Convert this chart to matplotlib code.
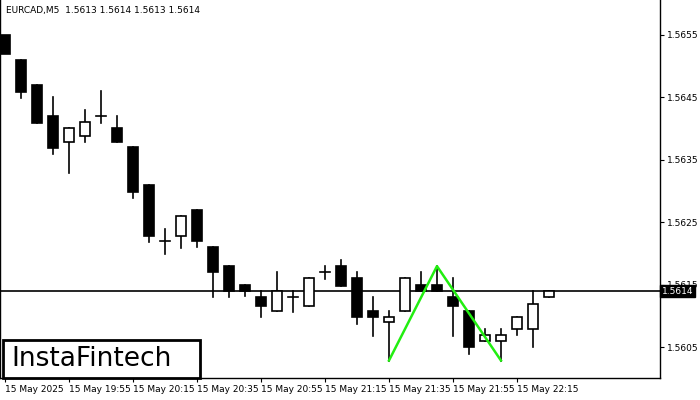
import matplotlib
matplotlib.use("Agg")
import matplotlib.pyplot as plt
from matplotlib.patches import Rectangle

opens  = [1.56550,1.56510,1.56470,1.56420,1.56379,1.56388,1.56420,1.56401,1.56371,1.56310,1.56220,1.56228,1.56270,1.56210,
          1.56180,1.56150,1.56130,1.56108,1.56130,1.56117,1.56171,1.56180,1.56161,1.56109,1.56090,1.56109,1.56150,1.56150,
          1.56130,1.56109,1.56060,1.56060,1.56079,1.56079,1.56130]
closes = [1.56520,1.56459,1.56409,1.56369,1.56401,1.56411,1.56420,1.56379,1.56298,1.56228,1.56220,1.56260,1.56220,1.56170,
          1.56140,1.56140,1.56117,1.56140,1.56130,1.56161,1.56171,1.56148,1.56098,1.56099,1.56098,1.56161,1.56140,1.56140,
          1.56117,1.56050,1.56070,1.56070,1.56099,1.56119,1.56140]
highs  = [1.56550,1.56510,1.56470,1.56451,1.56401,1.56430,1.56460,1.56420,1.56371,1.56310,1.56239,1.56260,1.56270,1.56210,
          1.56180,1.56150,1.56140,1.56170,1.56140,1.56161,1.56180,1.56190,1.56170,1.56130,1.56109,1.56161,1.56170,1.56180,
          1.56161,1.56109,1.56079,1.56079,1.56099,1.56140,1.56140]
lows   = [1.56550,1.56449,1.56409,1.56360,1.56329,1.56379,1.56409,1.56379,1.56289,1.56218,1.56199,1.56209,1.56210,1.56130,
          1.56130,1.56132,1.56098,1.56108,1.56106,1.56117,1.56159,1.56148,1.56088,1.56068,1.56029,1.56109,1.56140,1.56140,
          1.56068,1.56039,1.56060,1.56029,1.56070,1.56050,1.56130]
xlabels = ["15 May 2025","15 May 19:55","15 May 20:15","15 May 20:35","15 May 20:55",
           "15 May 21:15","15 May 21:35","15 May 21:55","15 May 22:15"]
yticks = [1.5605,1.5615,1.5625,1.5635,1.5645,1.5655]
pattern_x = [24,27,31]
pattern_y = [1.56029,1.56180,1.56029]
current = 1.5614

fig = plt.figure(figsize=(7,4),dpi=100)
ax = fig.add_axes([0, 0.055, 660/700, 1-0.055])
ax.set_xlim(-0.3125, 40.94)
ax.set_ylim(1.56001, 1.56606)
w = 0.62
for i,(o,c,h,l) in enumerate(zip(opens,closes,highs,lows)):
    ax.plot([i,i],[l,h],color='black',lw=1.2,zorder=2)
    bot = min(o,c); ht = max(abs(c-o), 0.000001)
    fc = 'white' if c>o else 'black'
    if abs(c-o) < 0.00002:
        ax.plot([i-w/2,i+w/2],[o,o],color='black',lw=1.2,zorder=3)
    else:
        ax.add_patch(Rectangle((i-w/2,bot),w,ht,facecolor=fc,edgecolor='black',lw=1.2,zorder=3))
ax.axhline(current,color='black',lw=1.2,zorder=1)
ax.plot(pattern_x,pattern_y,color='#22ee11',lw=1.8,zorder=4)
ax.yaxis.tick_right()
ax.set_yticks(yticks)
ax.set_yticklabels([f"{v:.4f}" for v in yticks],fontsize=6.5)
ax.set_xticks(range(0,33,4))
ax.set_xticklabels(xlabels,fontsize=6.5,ha='left')
ax.tick_params(length=3,width=0.8,pad=2)
for s in ax.spines.values():
    s.set_linewidth(1)
ax.spines['top'].set_visible(False)
ax.text(1.003, current, "1.5614", transform=ax.get_yaxis_transform(), fontsize=6.5, color='white',
        va='center', ha='left', bbox=dict(facecolor='black',edgecolor='black',pad=1.2), zorder=6)
ax.text(0.009, 0.985, "EURCAD,M5  1.5613 1.5614 1.5613 1.5614", transform=ax.transAxes, fontsize=6.5, va='top')
fig.text(11/700, 1-359/400, "InstaFintech", fontsize=19, va='center', ha='left', zorder=10)
fig.patches.append(Rectangle((3/700, 22/400), 197/700, 38/400, transform=fig.transFigure,
                             facecolor='white', edgecolor='black', lw=2, zorder=9))
fig.savefig("out.png")
